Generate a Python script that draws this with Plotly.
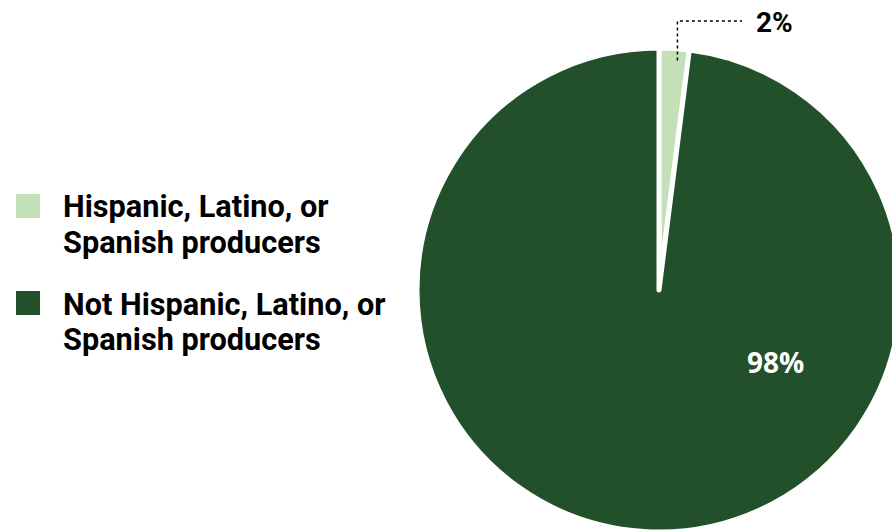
import math
import plotly.graph_objects as go

# ---- data ----
labels = ["Hispanic, Latino, or Spanish producers",
          "Not Hispanic, Latino, or Spanish producers"]
values = [2, 98]
colors = ["#c4e0b8", "#21502a"]

# ---- canvas geometry (pixels) ----
W, H = 910, 540
CX, CY, R = 659, 290, 242

def px(x):
    return x / W

def py(y):
    return 1 - y / H

fig = go.Figure()
fig.add_trace(go.Pie(
    labels=labels,
    values=values,
    marker=dict(colors=colors, line=dict(color="white", width=5)),
    sort=False,
    direction="clockwise",
    rotation=0,
    textinfo="none",
    hoverinfo="label+percent",
    showlegend=False,
    domain=dict(x=[px(CX - R), px(CX + R)], y=[py(CY + R), py(CY - R)]),
))

total = sum(values)
annotations = []
shapes = []

# custom legend
legend_top = [194, 291]
for i, (lab, col) in enumerate(zip(labels, colors)):
    top = legend_top[i]
    shapes.append(dict(type="rect", xref="paper", yref="paper",
                       x0=px(16), x1=px(40), y0=py(top + 24), y1=py(top),
                       fillcolor=col, line=dict(width=0)))
    first, second = lab.split(" Spanish")
    for j, line in enumerate([first, "Spanish" + second]):
        annotations.append(dict(
            text=line, xref="paper", yref="paper",
            x=px(61), y=py(top + 13 + j * 35),
            xanchor="left", yanchor="middle", showarrow=False,
            font=dict(family="Roboto", size=30.7, color="#000000", weight="bold"),
        ))

# small slice label with dotted leader
mid0 = math.radians(values[0] / total * 360 / 2)
lx = CX + R * 0.95 * math.sin(mid0) + 4
ly_start = CY - R * 0.95 * math.cos(mid0)
ly_elbow = 21
shapes.append(dict(type="path", xref="paper", yref="paper",
                   path=f"M {px(lx)} {py(ly_start)} L {px(lx)} {py(ly_elbow)} L {px(742)} {py(ly_elbow)}",
                   line=dict(color="black", width=1.5, dash="dot")))
annotations.append(dict(
    text=f"{values[0]}%", xref="paper", yref="paper",
    x=px(754), y=py(22), xanchor="left", yanchor="middle", showarrow=False,
    font=dict(family="Roboto", size=28, color="#000000", weight="bold"),
))

# big slice label
annotations.append(dict(
    text=f"{values[1]}%", xref="paper", yref="paper",
    x=px(775), y=py(362), xanchor="center", yanchor="middle", showarrow=False,
    font=dict(family="Open Sans", size=28, color="#ffffff", weight="bold"),
))

fig.update_layout(
    width=W, height=H,
    margin=dict(l=0, r=0, t=0, b=0),
    paper_bgcolor="white", plot_bgcolor="white",
    annotations=annotations, shapes=shapes,
)

fig.write_html(
    "out.html",
    config={"displayModeBar": False},
    post_script="document.body.style.margin='0';document.body.style.overflow='hidden';document.documentElement.style.overflow='hidden';",
)
